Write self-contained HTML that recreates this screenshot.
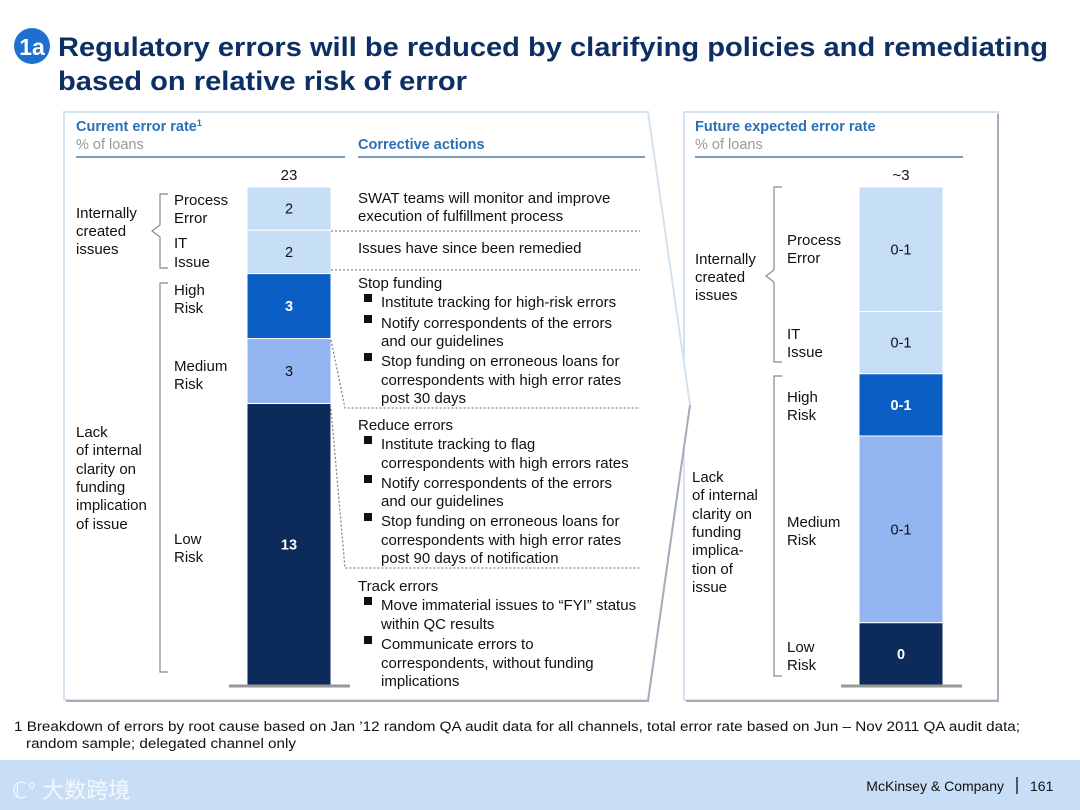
<!DOCTYPE html>
<html><head><meta charset="utf-8"><style>
body{margin:0;background:#fff;}
svg{display:block;font-family:"Liberation Sans","Noto Sans CJK SC",sans-serif;}
</style></head><body>
<svg width="1080" height="810" viewBox="0 0 1080 810">
<g>
<circle cx="32" cy="46" r="18" fill="#1f6fd0"/>
<text x="32" y="55" font-size="23" font-weight="bold" fill="#fff" text-anchor="middle">1a</text>
<text x="58" y="56" font-size="27" font-weight="bold" fill="#0d2f63" textLength="990" lengthAdjust="spacingAndGlyphs">Regulatory errors will be reduced by clarifying policies and remediating</text>
<text x="58" y="90" font-size="27" font-weight="bold" fill="#0d2f63" textLength="409" lengthAdjust="spacingAndGlyphs">based on relative risk of error</text>
</g>
<rect x="684" y="112" width="314" height="588" fill="#fff" stroke="#d5e3f1" stroke-width="2"/>
<path d="M686 701 L998 701 L998 114" fill="none" stroke="#aab" stroke-width="2"/>
<path d="M64 112 L648 112 L690 405 L648 700 L64 700 Z" fill="#fff" stroke="#d5e3f1" stroke-width="2"/>
<path d="M66 701 L648 701 L690 405" fill="none" stroke="#aab" stroke-width="2"/>
<g font-size="14.5" font-weight="bold" fill="#2a70b8">
<text x="76" y="131">Current error rate<tspan font-size="9" dy="-5">1</tspan></text>
<text x="358" y="149">Corrective actions</text>
<text x="695" y="131">Future expected error rate</text>
</g>
<g font-size="14.5" fill="#999">
<text x="76" y="149">% of loans</text><text x="695" y="149">% of loans</text>
</g>
<g stroke="#2a5f95" stroke-width="1.3">
<line x1="76" y1="157" x2="345" y2="157"/><line x1="358" y1="157" x2="645" y2="157"/><line x1="695" y1="157" x2="963" y2="157"/>
</g>
<g id="bars"></g>
<g font-size="15" fill="#111">
<text x="289" y="180" text-anchor="middle">23</text>
<text x="901" y="180" text-anchor="middle">~3</text>
<text x="174" y="205">Process</text><text x="174" y="223">Error</text>
<text x="174" y="248">IT</text><text x="174" y="267">Issue</text>
<text x="174" y="295">High</text><text x="174" y="313">Risk</text>
<text x="174" y="371">Medium</text><text x="174" y="389">Risk</text>
<text x="174" y="544">Low</text><text x="174" y="562">Risk</text>
<text x="76" y="218">Internally</text><text x="76" y="236">created</text><text x="76" y="254">issues</text>
<text x="76" y="437">Lack</text><text x="76" y="455">of internal</text><text x="76" y="474">clarity on</text><text x="76" y="492">funding</text><text x="76" y="510">implication</text><text x="76" y="529">of issue</text>
<text x="787" y="245">Process</text><text x="787" y="263">Error</text>
<text x="787" y="339">IT</text><text x="787" y="357">Issue</text>
<text x="787" y="402">High</text><text x="787" y="420">Risk</text>
<text x="787" y="527">Medium</text><text x="787" y="545">Risk</text>
<text x="787" y="652">Low</text><text x="787" y="670">Risk</text>
<text x="695" y="264">Internally</text><text x="695" y="282">created</text><text x="695" y="300">issues</text>
<text x="692" y="482">Lack</text><text x="692" y="500">of internal</text><text x="692" y="519">clarity on</text><text x="692" y="537">funding</text><text x="692" y="555">implica-</text><text x="692" y="574">tion of</text><text x="692" y="592">issue</text>
</g>
<g fill="none" stroke="#888" stroke-width="1.2">
<path d="M168 194 H160 V225 L152 231 L160 237 V268 H168"/>
<path d="M168 283 H160 V672 H168"/>
<path d="M782 187 H774 V270 L766 276 L774 282 V362 H782"/>
<path d="M782 376 H774 V676 H782"/>
</g>
<g fill="none" stroke="#888" stroke-width="1.3" stroke-dasharray="2,2">
<path d="M331 231 H640"/><path d="M331 270 H640"/>
<path d="M331 340 L345 408 H640"/><path d="M331 409 L345 568 H640"/>
</g>
<g font-size="15" fill="#111">
<text x="358" y="203">SWAT teams will monitor and improve</text><text x="358" y="221">execution of fulfillment process</text>
<text x="358" y="253">Issues have since been remedied</text>
<text x="358" y="288">Stop funding</text>
<text x="381" y="307">Institute tracking for high-risk errors</text>
<text x="381" y="328">Notify correspondents of the errors</text><text x="381" y="346">and our guidelines</text>
<text x="381" y="366">Stop funding on erroneous loans for</text><text x="381" y="385">correspondents with high error rates</text><text x="381" y="403">post 30 days</text>
<text x="358" y="430">Reduce errors</text>
<text x="381" y="449">Institute tracking to flag</text><text x="381" y="468">correspondents with high errors rates</text>
<text x="381" y="488">Notify correspondents of the errors</text><text x="381" y="506">and our guidelines</text>
<text x="381" y="526">Stop funding on erroneous loans for</text><text x="381" y="545">correspondents with high error rates</text><text x="381" y="563">post 90 days of notification</text>
<text x="358" y="591">Track errors</text>
<text x="381" y="610">Move immaterial issues to “FYI” status</text><text x="381" y="629">within QC results</text>
<text x="381" y="649">Communicate errors to</text><text x="381" y="668">correspondents, without funding</text><text x="381" y="686">implications</text>
</g>
<g fill="#111">
<rect x="364" y="294" width="8" height="8"/><rect x="364" y="315" width="8" height="8"/><rect x="364" y="353" width="8" height="8"/>
<rect x="364" y="436" width="8" height="8"/><rect x="364" y="475" width="8" height="8"/><rect x="364" y="513" width="8" height="8"/>
<rect x="364" y="597" width="8" height="8"/><rect x="364" y="636" width="8" height="8"/>
</g>
<line x1="229" y1="686" x2="350" y2="686" stroke="#999" stroke-width="3"/>
<line x1="841" y1="686" x2="962" y2="686" stroke="#999" stroke-width="3"/>
<g font-size="13.5" fill="#111">
<text x="14" y="731" textLength="1006" lengthAdjust="spacingAndGlyphs">1 Breakdown of errors by root cause based on Jan ’12 random QA audit data for all channels, total error rate based on Jun – Nov 2011 QA audit data;</text>
<text x="26" y="748" textLength="270" lengthAdjust="spacingAndGlyphs">random sample; delegated channel only</text>
</g>
<rect x="0" y="760" width="1080" height="50" fill="#c8def6"/>
<text x="12" y="798" font-size="22" fill="#f4f8fd">ℂ° 大数跨境</text>
<text x="1004" y="791" font-size="14" fill="#111" text-anchor="end">McKinsey &amp; Company</text>
<line x1="1017" y1="777" x2="1017" y2="794" stroke="#111" stroke-width="1.3"/>
<text x="1030" y="791" font-size="14" fill="#111">161</text>
</svg>
<script>
const categories = ["Process Error","IT Issue","High Risk","Medium Risk","Low Risk"];
const currentValues = [2,2,3,3,13];
const futureLabels = ["0-1","0-1","0-1","0-1","0"];
const futureWeights = [2,1,1,3,1];
const colors = ["#c6ddf6","#c6ddf6","#0b5fc4","#93b5f1","#0c2b5b"];
const textColors = ["#111","#111","#fff","#111","#fff"];
const bold = [false,false,true,false,true];
const NS="http://www.w3.org/2000/svg";
const g=document.getElementById('bars');
function stack(vals,labels,x,w,top,bottom,prefix){
  const total=vals.reduce((a,b)=>a+b,0);
  const scale=v=>v*(bottom-top)/total;
  let y=top;
  vals.forEach((v,i)=>{
    const h=scale(v);
    const r=document.createElementNS(NS,'rect');
    r.setAttribute('x',x);r.setAttribute('y',y);r.setAttribute('width',w);r.setAttribute('height',h);
    r.setAttribute('fill',colors[i]);r.setAttribute('stroke','#fff');r.setAttribute('stroke-width','1');
    
    
    g.appendChild(r);
    const t=document.createElementNS(NS,'text');
    t.setAttribute('x',x+w/2);t.setAttribute('y',y+h/2+5);t.setAttribute('text-anchor','middle');
    t.setAttribute('font-size','14.5');t.setAttribute('fill',textColors[i]);
    if(bold[i])t.setAttribute('font-weight','bold');
    t.textContent=labels[i];
    
    
    g.appendChild(t);
    y+=h;
  });
}
stack(currentValues,currentValues.map(String),247,84,187,685,'current');
stack(futureWeights,futureLabels,859,84,187,685,'future');
</script>
</body></html>
